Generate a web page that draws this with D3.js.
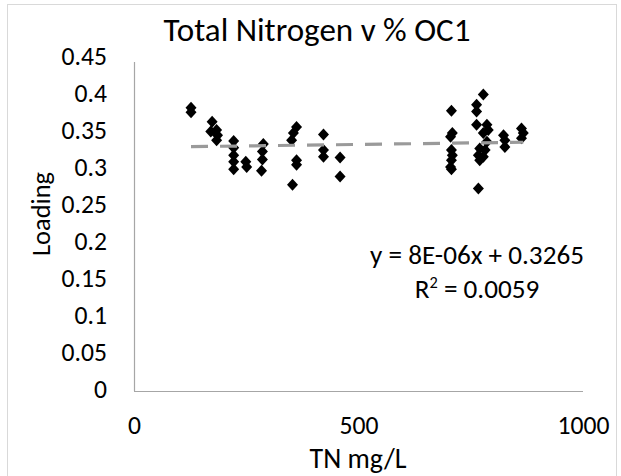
<!DOCTYPE html>
<html>
<head>
<meta charset="utf-8">
<script src="https://cdn.jsdelivr.net/npm/d3@7"></script>
<style>
  html, body { margin: 0; padding: 0; background: #fff; }
  svg text { font-family: Carlito, Lato, "Open Sans", sans-serif; fill: #000; }
</style>
</head>
<body>
<svg id="chart" width="621" height="476"></svg>
<script>
// ---- data ----
const tnValues = [
  127, 127, 174, 171, 184, 186, 184,
  222, 222, 222, 222, 222,
  249, 251,
  288, 286, 286, 284,
  362, 355, 351, 362, 362, 353,
  422, 422, 422,
  459, 459,
  707, 709, 705, 707, 709, 707, 705, 707,
  778, 763, 763, 763, 786, 789, 778, 786, 770, 782, 767, 778, 770, 767,
  823, 826, 826,
  863, 867, 863
];
const loadingValues = [
  0.380, 0.374, 0.361, 0.348, 0.350, 0.343, 0.336,
  0.335, 0.326, 0.316, 0.307, 0.297,
  0.307, 0.300,
  0.331, 0.321, 0.310, 0.295,
  0.354, 0.346, 0.336, 0.309, 0.303, 0.276,
  0.344, 0.323, 0.314,
  0.313, 0.287,
  0.376, 0.346, 0.341, 0.323, 0.316, 0.309, 0.300, 0.297,
  0.398, 0.384, 0.375, 0.357, 0.357, 0.350, 0.346, 0.334, 0.325, 0.323, 0.316, 0.314, 0.309, 0.271,
  0.343, 0.336, 0.327,
  0.352, 0.346, 0.339
];
const xTicks = [0, 500, 1000];
const yTicks = [0, 0.05, 0.1, 0.15, 0.2, 0.25, 0.3, 0.35, 0.4, 0.45];
const trendSlope = 8e-6;
const trendIntercept = 0.3265;
const titleText = "Total Nitrogen v % OC1";
const xTitle = "TN mg/L";
const yTitle = "Loading";
const eqLine1 = "y = 8E-06x + 0.3265";
const r2Value = "0.0059";

// ---- layout ----
const svg = d3.select("#chart");
const x = d3.scaleLinear().domain([0, 1000]).range([134, 583]);
const y = d3.scaleLinear().domain([0, 0.45]).range([389, 56]);

// fit a text element's font size to a target width
function fit(sel, target) {
  const base = 20;
  sel.attr("font-size", base);
  const w = sel.node().getComputedTextLength();
  const fs = base * target / w;
  sel.attr("font-size", fs);
  return fs;
}

// outer chart border
svg.append("rect")
  .attr("x", 7.5).attr("y", 4.5).attr("width", 609).attr("height", 480)
  .attr("fill", "none").attr("stroke", "#d9d9d9").attr("stroke-width", 1);

// measure tick font size from the widest label
const probe = svg.append("text").text("1000");
const tickFs = fit(probe, 52);
probe.remove();

// axes
const yAxis = d3.axisLeft(y).tickValues(yTicks).tickSize(0).tickPadding(27)
  .tickFormat(d => d3.format("")(+d.toFixed(2)));
const gy = svg.append("g").attr("transform", `translate(${x(0)},0)`).call(yAxis);
gy.select(".domain").attr("stroke", "#a6a6a6").attr("stroke-width", 1.2)
  .attr("d", `M0.5,${y(0.45) + 6}V${y(0) + 2}`);
gy.selectAll("text").attr("font-size", tickFs).attr("fill", "#000")
  .attr("font-family", "Carlito, Lato, sans-serif");

const xAxis = d3.axisBottom(x).tickValues(xTicks).tickSize(0).tickPadding(25)
  .tickFormat(d3.format("d"));
const gx = svg.append("g").attr("transform", `translate(0,${y(0) + 2})`).call(xAxis);
gx.select(".domain").attr("stroke", "#a6a6a6").attr("stroke-width", 1.2)
  .attr("d", `M${x(0)},0.5H${x(1000)}`);
gx.selectAll("text").attr("font-size", tickFs).attr("fill", "#000")
  .attr("font-family", "Carlito, Lato, sans-serif");

// data points (diamonds)
const pts = tnValues.map((v, i) => ({ tn: v, load: loadingValues[i] }));
const diamond = "M0,-6L5.5,0L0,6L-5.5,0Z";
svg.append("g").selectAll("path").data(pts).join("path")
  .attr("d", diamond)
  .attr("transform", d => `translate(${x(d.tn)},${y(d.load)})`)
  .attr("fill", "#000");

// trendline
const xMin = d3.min(tnValues), xMax = d3.max(tnValues);
svg.append("line")
  .attr("x1", x(xMin)).attr("y1", y(trendSlope * xMin + trendIntercept))
  .attr("x2", x(xMax)).attr("y2", y(trendSlope * xMax + trendIntercept))
  .attr("stroke", "#9a9a9a").attr("stroke-width", 3.2)
  .attr("stroke-dasharray", "17,12");

// title
const t = svg.append("text").attr("x", 317).attr("y", 41).attr("text-anchor", "middle")
  .text(titleText);
fit(t, 307);

// axis titles
const xt = svg.append("text").attr("x", 358).attr("y", 468).attr("text-anchor", "middle")
  .text(xTitle);
fit(xt, 97);
const yt = svg.append("text").attr("transform", "translate(50,214) rotate(-90)")
  .attr("text-anchor", "middle").text(yTitle);
fit(yt, 84);

// equation
const e1 = svg.append("text").attr("x", 477).attr("y", 264).attr("text-anchor", "middle")
  .text(eqLine1);
const eqFs = fit(e1, 214);
const r2 = svg.append("text").attr("x", 477).attr("y", 298).attr("text-anchor", "middle")
  .attr("font-size", eqFs);
r2.append("tspan").text("R");
r2.append("tspan").attr("font-size", eqFs * 0.6).attr("dy", -eqFs * 0.35).text("2");
r2.append("tspan").attr("dy", eqFs * 0.35).text(" = " + r2Value);
</script>
</body>
</html>
